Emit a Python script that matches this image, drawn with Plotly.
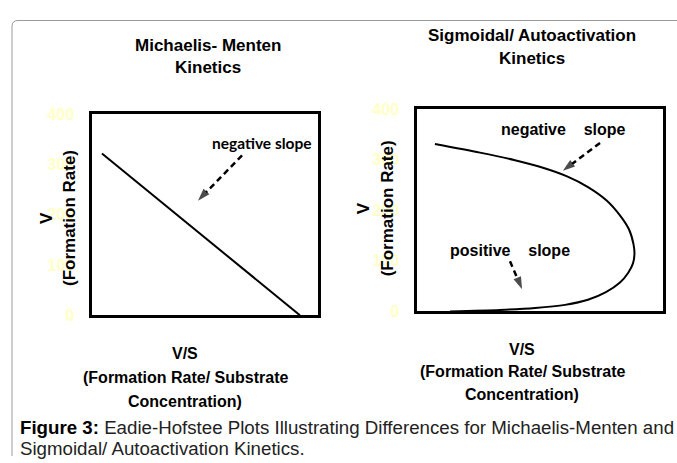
import plotly.graph_objects as go

W, H = 677, 463

# ---------------- data ----------------
mm_vs = [4.4, 92.0]                 # V/S (relative units), Michaelis-Menten
mm_v = [321.5, 0.0]                 # V

sig_vs = [7.3, 25.6, 39.8, 51.2, 61.0, 69.5, 77.2, 82.5, 86.2, 88.0, 88.4, 87.8, 85.8, 82.5,
          76.8, 69.5, 60.2, 48.0, 33.7, 13.4]
sig_v = [331, 314, 299, 284, 267, 246, 219, 190, 162, 133, 114, 95, 76, 57,
         38, 23, 13, 6.7, 2.9, 0]

y_ticks = [0, 100, 200, 300, 400]
y_tick_text = ["0", "100", "200", "300", "400"]


def px(x):
    return x / W


def py(y):
    return 1 - y / H


FONT = "Liberation Sans, Arial, sans-serif"
TICKCOL = "#ffffc6"

fig = go.Figure()
fig.add_trace(go.Scatter(x=mm_vs, y=mm_v, mode="lines", line=dict(color="black", width=2),
                         xaxis="x", yaxis="y", hoverinfo="skip", showlegend=False))
fig.add_trace(go.Scatter(x=sig_vs, y=sig_v, mode="lines",
                         line=dict(color="black", width=2, shape="spline", smoothing=0.8),
                         xaxis="x2", yaxis="y2", hoverinfo="skip", showlegend=False))

axis_common = dict(showline=True, mirror=True, linecolor="black", linewidth=2.5,
                   showgrid=False, zeroline=False, fixedrange=True)
xaxis_common = dict(axis_common, range=[0, 100], showticklabels=False, ticks="")
yaxis_common = dict(axis_common, range=[0, 400], tickvals=y_ticks, ticktext=y_tick_text, ticks="",
                    ticklabelstandoff=12,
                    tickfont=dict(family=FONT, size=16, color=TICKCOL, weight="bold"))

fig.update_layout(
    width=W, height=H, autosize=False,
    margin=dict(l=0, r=0, t=0, b=0),
    paper_bgcolor="white", plot_bgcolor="white",
    xaxis=dict(xaxis_common, domain=[px(92), px(318)], anchor="y"),
    yaxis=dict(yaxis_common, domain=[py(319), py(110)], anchor="x"),
    xaxis2=dict(xaxis_common, domain=[px(417), px(663)], anchor="y2"),
    yaxis2=dict(yaxis_common, domain=[py(315), py(105)], anchor="x2"),
)

# outer rounded frame (top-left corner)
x0, y0, r = 12, 13, 6
path = (f"M {px(x0)},{py(H + 2)} L {px(x0)},{py(y0 + r)} "
        f"Q {px(x0)},{py(y0)} {px(x0 + r)},{py(y0)} L {px(W + 2)},{py(y0)}")
fig.add_shape(type="path", path=path, xref="paper", yref="paper",
              line=dict(color="#9a9a9a", width=1))

ann = []


def text(x, y, s, size=16, family=FONT, color="black", angle=0, xanchor="center"):
    ann.append(dict(x=px(x), y=py(y), xref="paper", yref="paper", text=s, showarrow=False,
                    font=dict(family=family, size=size, color=color), textangle=angle,
                    align="center", xanchor=xanchor, yanchor="middle"))


# titles
text(208, 39, "<b>Michaelis- Menten</b>", size=17)
text(208, 62, "<b>Kinetics</b>", size=17)
text(532, 29, "<b>Sigmoidal/ Autoactivation</b>", size=17)
text(532, 52, "<b>Kinetics</b>", size=17)

# y axis titles
text(47, 218, "<b>V</b>", size=17, angle=-90)
text(70, 218, "<b>(Formation Rate)</b>", size=17, angle=-90)
text(363, 208, "<b>V</b>", size=17, angle=-90)
text(387, 208, "<b>(Formation Rate)</b>", size=17, angle=-90)

# x axis titles
for cx, ys in ((185, (359, 384, 408)), (522, (354, 377, 401))):
    text(cx, ys[0], "<b>V/S</b>", size=16)
    text(cx, ys[1], "<b>(Formation Rate/ Substrate</b>", size=16)
    text(cx, ys[2], "<b>Concentration)</b>", size=16)

# slope labels
text(262, 140, "<b>negative slope</b>", size=15.5, family="Lato, Carlito, sans-serif")
nb = "\u00a0" * 4
text(563, 126, f"<b>negative{nb}slope</b>", size=16)
text(510, 252, f"<b>positive{nb}slope</b>", size=16)

# caption
line1 = ("<b>Figure 3:</b> <span style='color:#222222'>Eadie-Hofstee Plots Illustrating "
         "Differences for Michaelis-Menten and</span>")
text(18, 436, line1, size=18.7, color="black", xanchor="left")
text(18, 457, "Sigmoidal/ Autoactivation Kinetics.", size=18.7, color="#222222", xanchor="left")

# dashed arrows (tail -> tip) in each subplot's data coordinates
arrows = [
    ("x", "y", (66.4, 317.7), (46.9, 227.8)),
    ("x2", "y2", (74.4, 333.0), (59.3, 278.0)),
    ("x2", "y2", (37.8, 99.0), (42.7, 44.0)),
]
for xr, yr, (tx, ty), (hx, hy) in arrows:
    fig.add_trace(go.Scatter(
        x=[tx, hx], y=[ty, hy], xaxis=xr, yaxis=yr, mode="lines+markers",
        line=dict(color="black", width=2.5, dash="6px,4px"),
        marker=dict(symbol=["circle", "arrow"], size=[0, 13], color="black",
                    angleref="previous", line=dict(width=0)),
        hoverinfo="skip", showlegend=False))

fig.update_layout(annotations=ann)

fig.write_html("out.html", config={"displayModeBar": False},
               post_script="document.body.style.margin='0';")
